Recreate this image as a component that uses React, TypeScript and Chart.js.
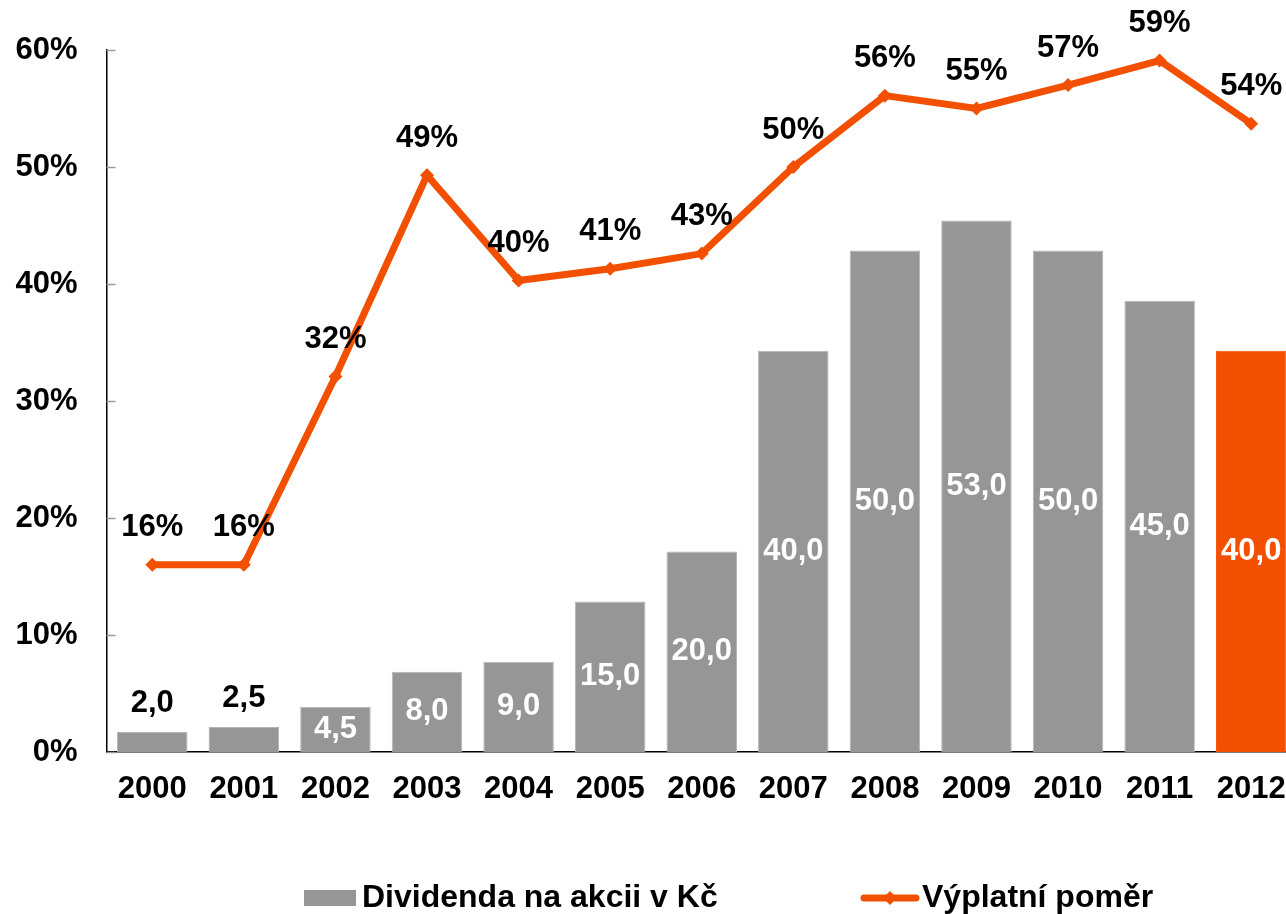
import React, { useEffect, useRef } from "react";
import { Chart, registerables } from "chart.js";

Chart.register(...registerables);

const years = ["2000", "2001", "2002", "2003", "2004", "2005", "2006", "2007", "2008", "2009", "2010", "2011", "2012"];
const dividend = [2.0, 2.5, 4.5, 8.0, 9.0, 15.0, 20.0, 40.0, 50.0, 53.0, 50.0, 45.0, 40.0];
const payout = [16.0, 16.0, 32.1, 49.3, 40.3, 41.3, 42.6, 50.0, 56.1, 55.0, 57.0, 59.1, 53.7];
const payoutLabels = ["16%", "16%", "32%", "49%", "40%", "41%", "43%", "50%", "56%", "55%", "57%", "59%", "54%"];
const seriesNames = ["Dividenda na akcii v Kč", "Výplatní poměr"];
const yTickMax = 60;
const yTickStep = 10;
const dividendAxisMax = 70;

const GRAY = "#969696";
const ORANGE = "#F25000";
const FONT = "'Liberation Sans', Arial, Helvetica, sans-serif";
const barColors = dividend.map((_, i) => (i === dividend.length - 1 ? ORANGE : GRAY));
const barBorders = dividend.map((_, i) => (i === dividend.length - 1 ? ORANGE : "#b4b4b4"));

const labelsPlugin = {
  id: "valueLabels",
  afterDatasetsDraw(chart: any) {
    const ctx = chart.ctx;
    ctx.save();
    ctx.font = `bold 31px ${FONT}`;
    ctx.textAlign = "center";
    ctx.textBaseline = "middle";
    const barMeta = chart.getDatasetMeta(0);
    barMeta.data.forEach((el: any, i: number) => {
      const txt = dividend[i].toFixed(1).replace(".", ",");
      const h = el.base - el.y;
      if (h < 35) {
        ctx.fillStyle = "#000";
        ctx.fillText(txt, el.x, el.y - 28);
      } else {
        ctx.fillStyle = "#fff";
        ctx.fillText(txt, el.x, (el.y + el.base) / 2);
      }
    });
    const lineMeta = chart.getDatasetMeta(1);
    lineMeta.data.forEach((el: any, i: number) => {
      ctx.fillStyle = "#000";
      ctx.fillText(payoutLabels[i], el.x, el.y - 37);
    });
    ctx.restore();
  },
  afterDraw(chart: any) {
    const ctx = chart.ctx;
    const area = chart.chartArea;
    const yScale = chart.scales.y;
    ctx.save();
    ctx.strokeStyle = "#9a9a9a";
    ctx.lineWidth = 1.5;
    for (let v = 0; v <= yTickMax; v += yTickStep) {
      const py = Math.round(yScale.getPixelForValue(v)) + 0.5;
      ctx.beginPath();
      ctx.moveTo(area.left, py);
      ctx.lineTo(area.left + 9, py);
      ctx.stroke();
    }
    const ly = 898;
    ctx.font = `bold 32px ${FONT}`;
    ctx.textBaseline = "middle";
    ctx.textAlign = "left";
    ctx.fillStyle = GRAY;
    ctx.fillRect(304, ly - 8, 52, 16);
    ctx.fillStyle = "#000";
    ctx.fillText(seriesNames[0], 362, ly);
    ctx.strokeStyle = ORANGE;
    ctx.lineWidth = 7;
    ctx.lineCap = "round";
    ctx.beginPath();
    ctx.moveTo(864, ly);
    ctx.lineTo(916, ly);
    ctx.stroke();
    ctx.fillStyle = ORANGE;
    ctx.beginPath();
    ctx.moveTo(890, ly - 7);
    ctx.lineTo(897, ly);
    ctx.lineTo(890, ly + 7);
    ctx.lineTo(883, ly);
    ctx.closePath();
    ctx.fill();
    ctx.fillStyle = "#000";
    ctx.fillText(seriesNames[1], 922, ly);
    ctx.restore();
  },
};

export default function App() {
  const ref = useRef<HTMLCanvasElement | null>(null);

  useEffect(() => {
    document.body.style.margin = "0";
    document.documentElement.style.overflow = "hidden";
    document.body.style.overflow = "hidden";
    const canvas = ref.current;
    if (!canvas) return;
    const chart = new Chart(canvas, {
      type: "bar",
      data: {
        labels: years,
        datasets: [
          {
            type: "bar",
            label: seriesNames[0],
            data: dividend,
            yAxisID: "y1",
            backgroundColor: barColors,
            borderColor: barBorders,
            borderWidth: 1,
            categoryPercentage: 1,
            barPercentage: 0.77,
            order: 2,
          },
          {
            type: "line",
            label: seriesNames[1],
            data: payout,
            yAxisID: "y",
            borderColor: ORANGE,
            backgroundColor: ORANGE,
            borderWidth: 7,
            pointStyle: "rectRot",
            pointRadius: 7,
            pointBorderWidth: 0,
            pointBackgroundColor: ORANGE,
            tension: 0,
            order: 1,
          } as any,
        ],
      },
      options: {
        animation: false,
        responsive: false,
        devicePixelRatio: 1,
        layout: { padding: { top: 50, left: 0, right: 0, bottom: 0 } },
        plugins: {
          legend: { display: false },
          tooltip: { enabled: false },
        },
        scales: {
          x: {
            grid: { display: false, drawTicks: false },
            border: { display: true, color: "#000", width: 1.5 },
            ticks: {
              color: "#000",
              font: { family: FONT, size: 31, weight: "bold" },
              padding: 19,
              maxRotation: 0,
              autoSkip: false,
            },
            afterFit: (s: any) => {
              s.height = 162;
              s.paddingLeft = 0;
              s.paddingRight = 0;
            },
          },
          y: {
            position: "left",
            min: 0,
            max: yTickMax,
            grid: { display: false, drawTicks: false },
            border: { display: true, color: "#000", width: 1.5 },
            ticks: {
              stepSize: yTickStep,
              color: "#000",
              font: { family: FONT, size: 31, weight: "bold" },
              padding: 29,
              callback: (v: any) => `${v}%`,
            },
            afterFit: (s: any) => {
              s.width = 106.5;
            },
          },
          y1: {
            display: false,
            min: 0,
            max: dividendAxisMax,
          },
        },
      } as any,
      plugins: [labelsPlugin],
    });
    return () => chart.destroy();
  }, []);

  return (
    <div style={{ width: 1286, height: 914, overflow: "hidden" }}>
      <canvas ref={ref} width={1304} height={914} style={{ display: "block" }} />
    </div>
  );
}
